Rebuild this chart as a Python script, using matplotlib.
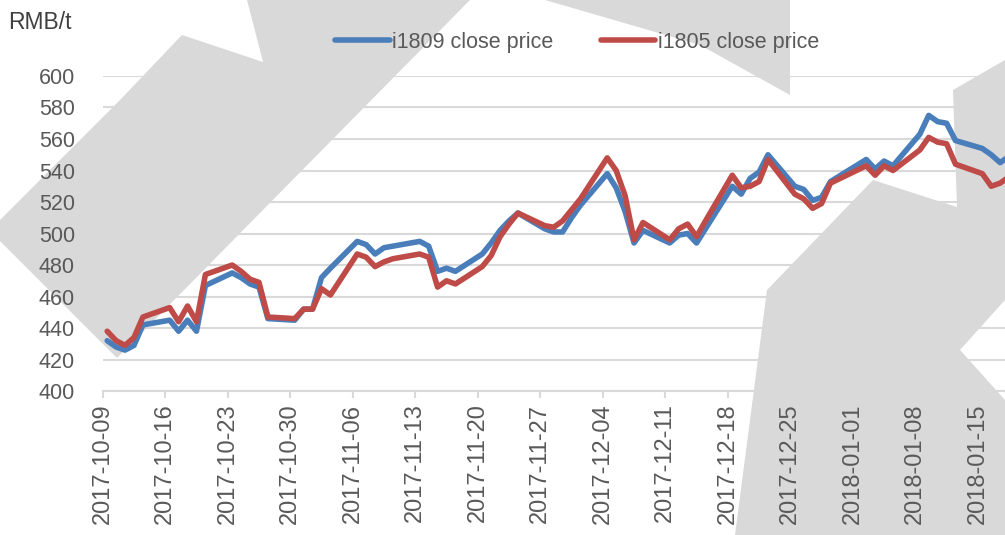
import numpy as np
import pandas as pd
import matplotlib
matplotlib.use('Agg')
import matplotlib.pyplot as plt
import matplotlib.dates as mdates
from matplotlib.patches import Polygon

plt.rcParams['font.family'] = ['Liberation Sans', 'DejaVu Sans']

# trading days, week by week
weeks = ['2017-10-09', '2017-10-16', '2017-10-23', '2017-10-30', '2017-11-06',
         '2017-11-13', '2017-11-20', '2017-11-27', '2017-12-04', '2017-12-11',
         '2017-12-18', '2017-12-25', '2018-01-01', '2018-01-08', '2018-01-15']
days = []
for w in weeks:
    for k in range(5):
        d = pd.Timestamp(w) + pd.Timedelta(days=k)
        if d in (pd.Timestamp('2018-01-01'), pd.Timestamp('2018-01-19')):
            continue
        days.append(d)
dates = pd.DatetimeIndex(days)

i1809 = [432, 428, 426, 429, 442,
         445, 438, 445, 438, 467,
         475, 472, 468, 466, 446,
         445, 452, 452, 472, 478,
         495, 493, 487, 491, 492,
         495, 492, 476, 478, 476,
         487, 494, 502, 508, 513,
         503, 501, 501, 510, 518,
         538, 529, 514, 494, 502,
         494, 499, 500, 494, 503,
         530, 525, 535, 539, 550,
         530, 528, 521, 523, 533,
         547, 541, 546, 543,
         563, 575, 571, 570, 559,
         554, 550, 545, 549]

i1805 = [438, 432, 429, 434, 447,
         453, 444, 454, 444, 474,
         480, 476, 471, 469, 447,
         446, 452, 452, 465, 461,
         487, 485, 479, 482, 484,
         487, 485, 466, 470, 468,
         479, 486, 498, 506, 513,
         505, 504, 508, 515, 522,
         548, 540, 524, 496, 507,
         496, 503, 506, 498, 508,
         537, 529, 530, 533, 547,
         525, 522, 516, 519, 532,
         543, 537, 543, 540,
         553, 561, 558, 557, 544,
         538, 530, 532, 536]

W, H = 1005, 535
fig = plt.figure(figsize=(W / 100, H / 100), dpi=100)

# watermark shapes on a background axes (pixel outline, y from top)
bg = fig.add_axes([0, 0, 1, 1], zorder=0)
bg.set_xlim(0, W)
bg.set_ylim(H, 0)
bg.axis('off')
wm_shapes = [
    [(120, 100), (182, 35), (263, 62), (247, 0), (470, 0), (117, 358), (0, 241), (0, 220)],
    [(545, 0), (790, 0), (790, 95), (700, 45)],
    [(873, 180), (957, 207), (953, 90), (1005, 60), (1005, 300),
     (960, 350), (1005, 400), (1005, 535), (735, 535), (767, 290)],
]
for pts in wm_shapes:
    bg.add_patch(Polygon(pts, closed=True, color='#d9d9d9', lw=0))

ax = fig.add_axes([0.1022, 0.269, 0.8978, 0.589], zorder=1)
ax.patch.set_alpha(0)

x = dates + pd.Timedelta(hours=12)
ax.plot(x, i1809, color='#4a7ebb', lw=4, label='i1809 close price', zorder=3,
        solid_joinstyle='round', solid_capstyle='round')
ax.plot(x, i1805, color='#be4b48', lw=4, label='i1805 close price', zorder=4,
        solid_joinstyle='round', solid_capstyle='round')

ax.set_ylim(400, 600)
ax.set_yticks(np.arange(400, 601, 20))
ax.set_xlim(pd.Timestamp('2017-10-09'), pd.Timestamp('2018-01-18 01:00'))
ax.set_xticks(pd.date_range('2017-10-09', '2018-01-15', freq='7D'))
ax.xaxis.set_major_formatter(mdates.DateFormatter('%Y-%m-%d'))

ax.grid(axis='y', color='#d9d9d9', lw=1.5)
ax.set_axisbelow(True)
for s in ['top', 'right', 'left']:
    ax.spines[s].set_visible(False)
ax.spines['bottom'].set_color('#d9d9d9')
ax.spines['bottom'].set_linewidth(1.5)
ax.tick_params(axis='x', colors='#d9d9d9', length=5, width=1.5, labelcolor='#595959',
               labelsize=17, labelrotation=90, pad=4)
ax.tick_params(axis='y', length=0, labelcolor='#595959', labelsize=15.5, pad=20)

fig.text(0.008, 0.958, 'RMB/t', fontsize=16.5, color='#404040', va='center', zorder=2)
fig.legend(loc='center', bbox_to_anchor=(0.574, 0.921), ncol=2, frameon=False,
           fontsize=15.5, handlelength=2.55, columnspacing=2.2, handletextpad=0.1,
           labelcolor='#595959')

fig.savefig('out.png', dpi=100)
